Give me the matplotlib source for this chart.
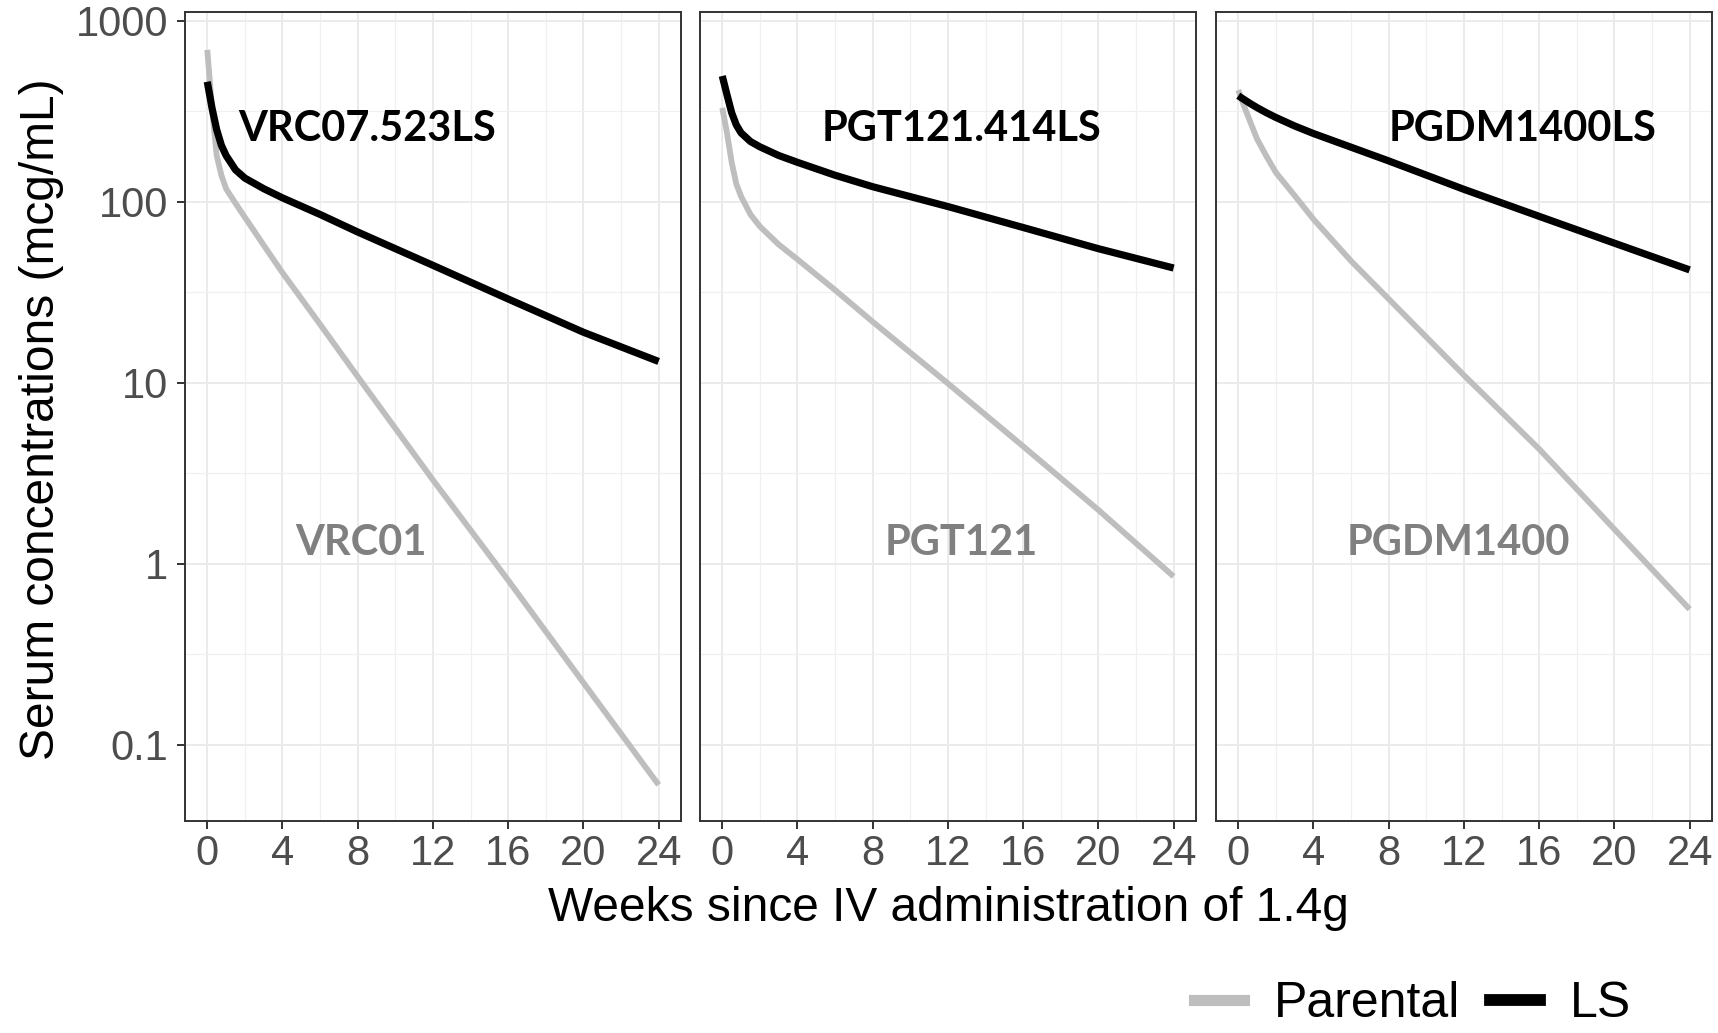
import matplotlib
matplotlib.use("Agg")
import matplotlib.pyplot as plt
from matplotlib.lines import Line2D
from matplotlib.ticker import FixedLocator, FixedFormatter

# weeks since dosing, shared by every curve
weeks = [0, 0.25, 0.5, 0.75, 1, 1.5, 2, 3, 4, 6, 8, 12, 16, 20, 24]

# serum concentrations (mcg/mL)
vrc01 = [690, 330, 180, 140, 118, 98, 82, 57.5, 40.5, 21, 10.8, 2.9, 0.81, 0.22, 0.06]
vrc07_523ls = [460, 330, 250, 205, 180, 150, 135, 118, 105, 85, 68, 44.5, 29, 19, 13.1]
pgt121 = [330, 240, 165, 125, 107, 85, 73, 58, 48, 32.5, 21.7, 9.9, 4.45, 1.98, 0.85]
pgt121_414ls = [495, 390, 310, 265, 240, 215, 201, 180, 165, 140, 121, 94, 72, 55, 43]
pgdm1400 = [414, 350, 300, 258, 222, 178, 145, 108, 80, 47, 29, 11, 4.3, 1.55, 0.56]
pgdm1400ls = [385, 370, 356, 343, 331, 310, 292, 262, 238, 200, 168, 117, 83, 59, 42]

panels = [
    ("VRC01", vrc01, "VRC07.523LS", vrc07_523ls),
    ("PGT121", pgt121, "PGT121.414LS", pgt121_414ls),
    ("PGDM1400", pgdm1400, "PGDM1400LS", pgdm1400ls),
]
# label positions (week, concentration) for parental / LS names
parental_pos = [(8.2, 1.3), (12.7, 1.3), (11.7, 1.3)]
ls_pos = [(8.5, 251), (12.7, 251), (15.1, 251)]

y_ticks = [0.1, 1, 10, 100, 1000]
y_labels = ["0.1", "1", "10", "100", "1000"]
x_ticks = [0, 4, 8, 12, 16, 20, 24]

GREY_LINE = "#bebebe"
GREY_TEXT = "#808080"
TICK_TEXT = "#4d4d4d"
BORDER = "#333333"

plt.rcParams["font.family"] = ["Liberation Sans", "DejaVu Sans"]

W, H = 1718, 1033
fig = plt.figure(figsize=(W / 100, H / 100), dpi=100)

lefts = [184.7, 699.7, 1215.7]
pw = 496.5
top_px, bot_px = 11.65, 820.7

for i, (pname, pvals, lname, lvals) in enumerate(panels):
    ax = fig.add_axes([lefts[i] / W, 1 - bot_px / H, pw / W, (bot_px - top_px) / H])
    ax.set_yscale("log")
    ax.plot(weeks, pvals, color=GREY_LINE, lw=4.2, solid_capstyle="butt", zorder=3)
    ax.plot(weeks, lvals, color="black", lw=5.2, solid_capstyle="butt", zorder=4)
    ax.set_xlim(-1.2, 25.2)
    ax.set_ylim(10 ** -1.42, 10 ** 3.05)

    ax.xaxis.set_major_locator(FixedLocator(x_ticks))
    ax.xaxis.set_minor_locator(FixedLocator([2, 6, 10, 14, 18, 22]))
    ax.yaxis.set_major_locator(FixedLocator(y_ticks))
    ax.yaxis.set_major_formatter(FixedFormatter(y_labels))
    ax.yaxis.set_minor_locator(FixedLocator([10 ** -0.5, 10 ** 0.5, 10 ** 1.5, 10 ** 2.5]))
    ax.yaxis.set_minor_formatter(FixedFormatter([]))

    ax.grid(which="major", color="#ebebeb", lw=1.4, zorder=0)
    ax.grid(which="minor", color="#f0f0f0", lw=0.9, zorder=0)
    ax.set_axisbelow(True)

    for sp in ax.spines.values():
        sp.set_color(BORDER)
        sp.set_linewidth(1.4)

    ax.tick_params(which="major", length=5.8, width=1.4, color=BORDER,
                   labelsize=30, labelcolor=TICK_TEXT)
    ax.tick_params(which="minor", length=0)
    ax.tick_params(axis="x", pad=4)
    ax.tick_params(axis="y", pad=6)
    if i > 0:
        ax.tick_params(axis="y", left=False, labelleft=False)

    ax.text(*parental_pos[i], pname, color=GREY_TEXT, fontsize=30, fontweight="bold",
            family=["Lato", "DejaVu Sans"], ha="center", va="center", zorder=5)
    ax.text(*ls_pos[i], lname, color="black", fontsize=30, fontweight="bold",
            family=["Lato", "DejaVu Sans"], ha="center", va="center", zorder=5)

fig.text(948.7 / W, (H - 921) / H, "Weeks since IV administration of 1.4g",
         fontsize=34.5, ha="center", va="baseline", color="black")
fig.text(42 / W, (H - 419) / H, "Serum concentrations (mcg/mL)",
         fontsize=34.5, rotation=90, ha="center", va="center", color="black")

handles = [Line2D([], [], color=GREY_LINE, lw=8),
           Line2D([], [], color="black", lw=8.5)]
fig.legend(handles, ["Parental", "LS"], ncol=2, frameon=False, fontsize=36,
           loc="center left", bbox_to_anchor=(1194 / W, 29 / H),
           borderpad=0, borderaxespad=0, handlelength=1.0, handletextpad=0.6,
           columnspacing=0.6)

fig.savefig("out.png", dpi=100)
